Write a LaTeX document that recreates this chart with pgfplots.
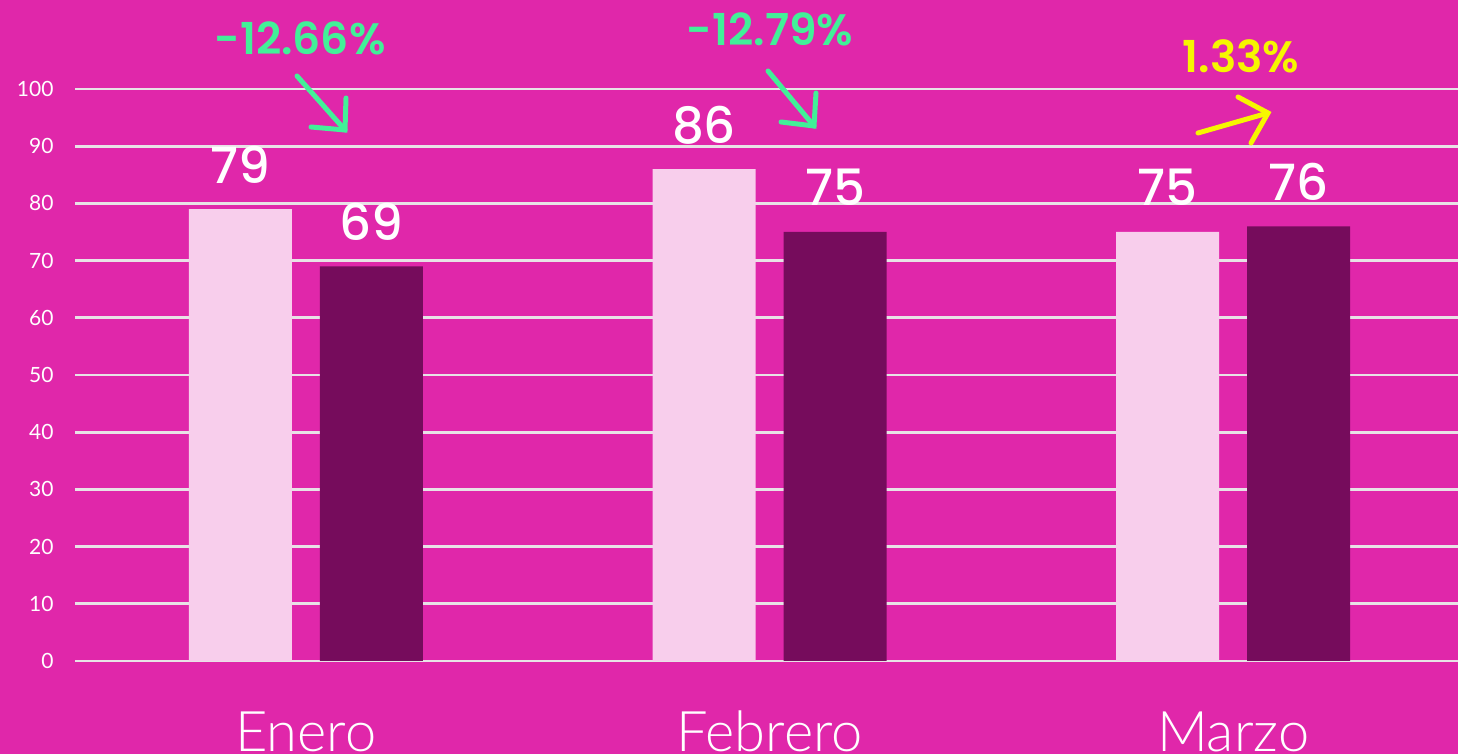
\documentclass[border=0pt]{standalone}
\usepackage{fontspec}
\setmainfont{Lato}
\newfontfamily\popsemi{Poppins-SemiBold}
\newfontfamily\popmed{Poppins-Medium}
\newfontfamily\lightfont{Lato Light}
\usepackage{pgfplots}
\pgfplotsset{compat=1.18}
\definecolor{bgc}{RGB}{224,39,170}
\definecolor{lightbar}{RGB}{248,206,236}
\definecolor{darkbar}{RGB}{118,12,92}
\definecolor{gridc}{RGB}{232,226,230}
\definecolor{greenc}{RGB}{66,240,152}
\definecolor{yellowc}{RGB}{246,246,0}
\begin{document}
\begin{tikzpicture}[x=1pt,y=1pt]
\path[use as bounding box, fill=bgc] (0,0) rectangle (1458,754);
\clip (0,0) rectangle (1458,754);
\begin{axis}[
  at={(75pt,93pt)}, anchor=south west,
  scale only axis, width=1383pt, height=572pt,
  xmin=-0.498, xmax=2.485, ymin=0, ymax=100,
  clip=false,
  axis line style={draw=none},
  major tick length=0pt,
  ytick={0,10,...,100},
  ymajorgrids, grid style={draw=gridc, line width=2.8pt},
  xtick={0,1,2}, xticklabels={Enero,Febrero,Marzo},
  xticklabel style={font=\lightfont\fontsize{56}{60}\selectfont, text=white, anchor=base, yshift=-91pt},
  yticklabel style={font=\fontsize{21}{24}\selectfont, text=white, anchor=east, xshift=-18pt},
  /pgf/number format/assume math mode=true,
  ybar, bar width=103pt,
  nodes near coords,
  every node near coord/.append style={font=\popmed\fontsize{50}{56}\selectfont, text=white, anchor=base, yshift=26pt},
]
\addplot[fill=lightbar, draw=none, bar shift=-65.5pt] coordinates {(0,79) (1,86) (2,75)};
\addplot[fill=darkbar, draw=none, bar shift=65.5pt] coordinates {(0,69) (1,75) (2,76)};
\end{axis}
\node[font=\popsemi\fontsize{44}{48}\selectfont, text=greenc] at (300,716) {-12.66\%};
\node[font=\popsemi\fontsize{44}{48}\selectfont, text=greenc] at (770,725) {-12.79\%};
\node[font=\popsemi\fontsize{44}{48}\selectfont, text=yellowc] at (1241,698) {1.33\%};
\draw[greenc, line width=5pt, line cap=round] (297,678) -- (345,624);
\draw[greenc, line width=5pt, line cap=round, line join=miter] (311,627) -- (345,624) -- (346,656);
\draw[greenc, line width=5pt, line cap=round] (768,683) -- (814,628);
\draw[greenc, line width=5pt, line cap=round, line join=miter] (781,632) -- (814,628) -- (816,661);
\draw[yellowc, line width=5pt, line cap=round] (1198,621) -- (1268,641);
\draw[yellowc, line width=5pt, line cap=round, line join=miter] (1238,657) -- (1268,641) -- (1251,611);
\end{tikzpicture}
\end{document}
